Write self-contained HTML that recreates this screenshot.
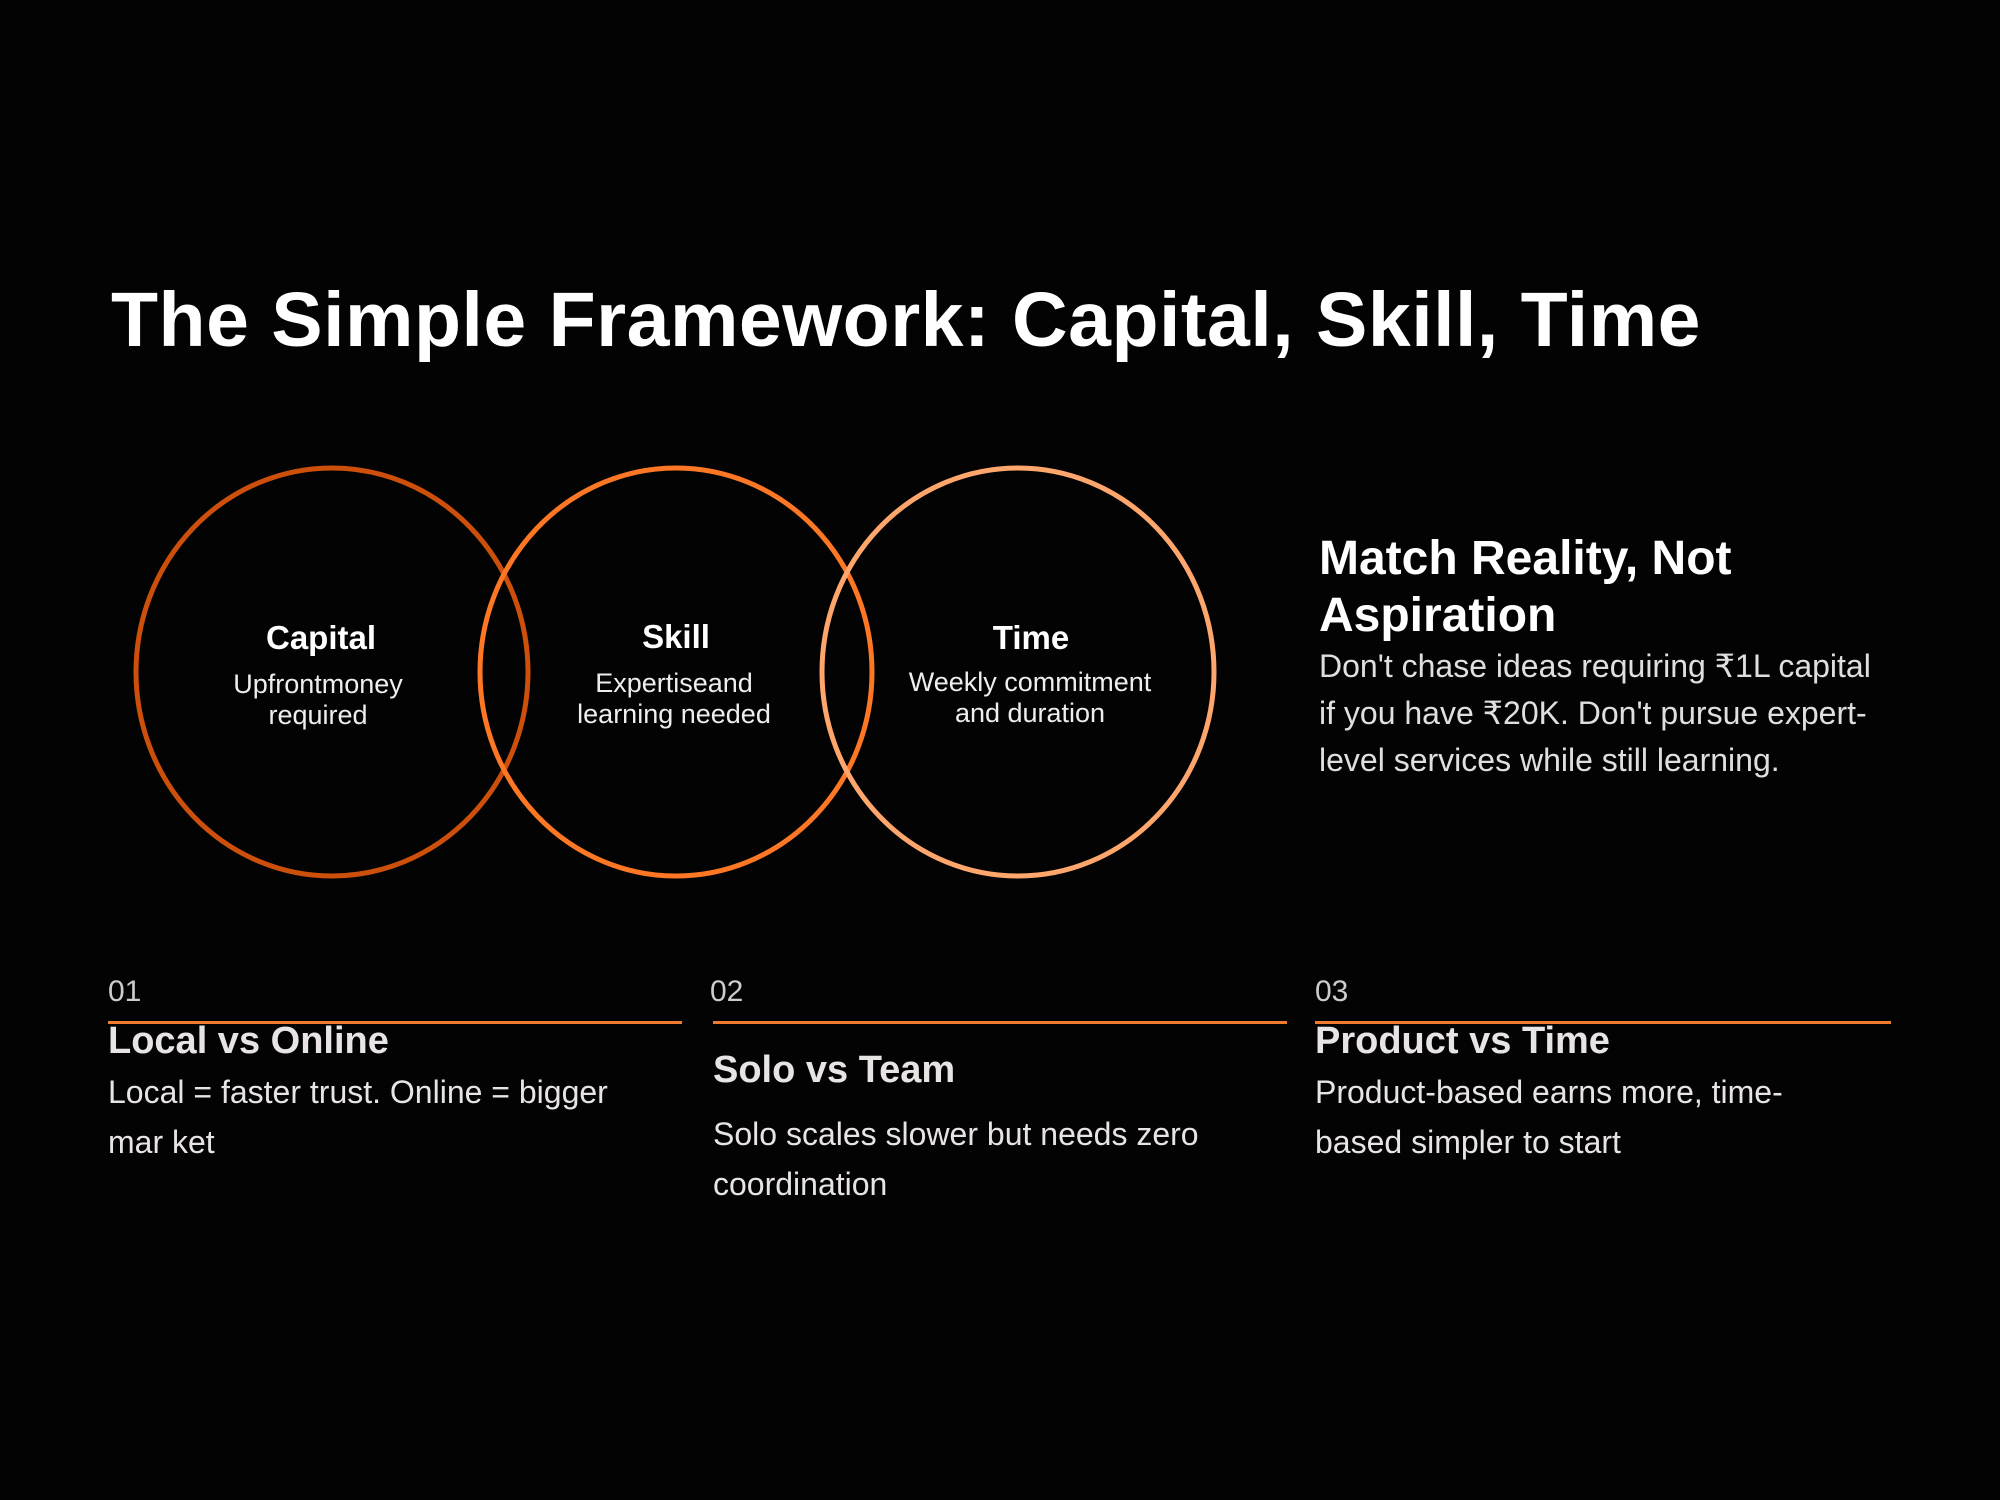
<!DOCTYPE html>
<html><head><meta charset="utf-8"><style>
html,body{margin:0;padding:0;background:#030303;}
body{width:2000px;height:1500px;position:relative;overflow:hidden;font-family:"Liberation Sans",sans-serif;color:#fff;}
.a{position:absolute;white-space:nowrap;}
.c{text-align:center;transform:translateX(-50%);}
.t{font-weight:bold;font-size:33px;line-height:40px;}
.s{font-size:27px;line-height:31px;color:#eee;}
.num{font-size:30px;line-height:36px;color:#ccc;font-weight:300;}
.h{font-weight:bold;font-size:38px;line-height:44px;color:#e8e4e4;}
.b{font-size:32px;line-height:50px;color:#e8e4e4;}
.ln{position:absolute;height:3px;background:#f07a2e;top:1021px;}
</style></head><body>
<div class="a" style="left:111px;top:270px;font-size:77px;font-weight:bold;line-height:100px;letter-spacing:0.5px;">The Simple Framework: Capital, Skill, Time</div>
<svg class="a" style="left:0;top:0" width="2000" height="1500">
<ellipse cx="332" cy="672" rx="196" ry="204" fill="none" stroke="#cc4f0b" stroke-width="5"/>
<ellipse cx="676" cy="672" rx="196" ry="204" fill="none" stroke="#fd7725" stroke-width="5"/>
<ellipse cx="1018" cy="672" rx="196" ry="204" fill="none" stroke="#ffa66c" stroke-width="5"/>
</svg>
<div class="a c t" style="left:321px;top:618px">Capital</div>
<div class="a c s" style="left:318px;top:669px">Upfrontmoney<br>required</div>
<div class="a c t" style="left:676px;top:617px">Skill</div>
<div class="a c s" style="left:674px;top:668px">Expertiseand<br>learning needed</div>
<div class="a c t" style="left:1031px;top:618px">Time</div>
<div class="a c s" style="left:1030px;top:667px">Weekly commitment<br>and duration</div>
<div class="a" style="left:1319px;top:530px;font-weight:bold;font-size:48px;line-height:57px;">Match Reality, Not<br>Aspiration</div>
<div class="a" style="left:1319px;top:643px;font-size:32px;line-height:47px;color:#e0dede;">Don't chase ideas requiring ₹1L capital<br>if you have ₹20K. Don't pursue expert-<br>level services while still learning.</div>
<div class="a num" style="left:108px;top:974px">01</div>
<div class="a num" style="left:710px;top:974px">02</div>
<div class="a num" style="left:1315px;top:974px">03</div>
<div class="ln" style="left:108px;width:574px"></div>
<div class="ln" style="left:713px;width:574px"></div>
<div class="ln" style="left:1315px;width:576px"></div>
<div class="a h" style="left:108px;top:1019px">Local vs Online</div>
<div class="a b" style="left:108px;top:1067px">Local = faster trust. Online = bigger<br>mar ket</div>
<div class="a h" style="left:713px;top:1048px">Solo vs Team</div>
<div class="a b" style="left:713px;top:1109px">Solo scales slower but needs zero<br>coordination</div>
<div class="a h" style="left:1315px;top:1019px">Product vs Time</div>
<div class="a b" style="left:1315px;top:1067px">Product-based earns more, time-<br>based simpler to start</div>
</body></html>
